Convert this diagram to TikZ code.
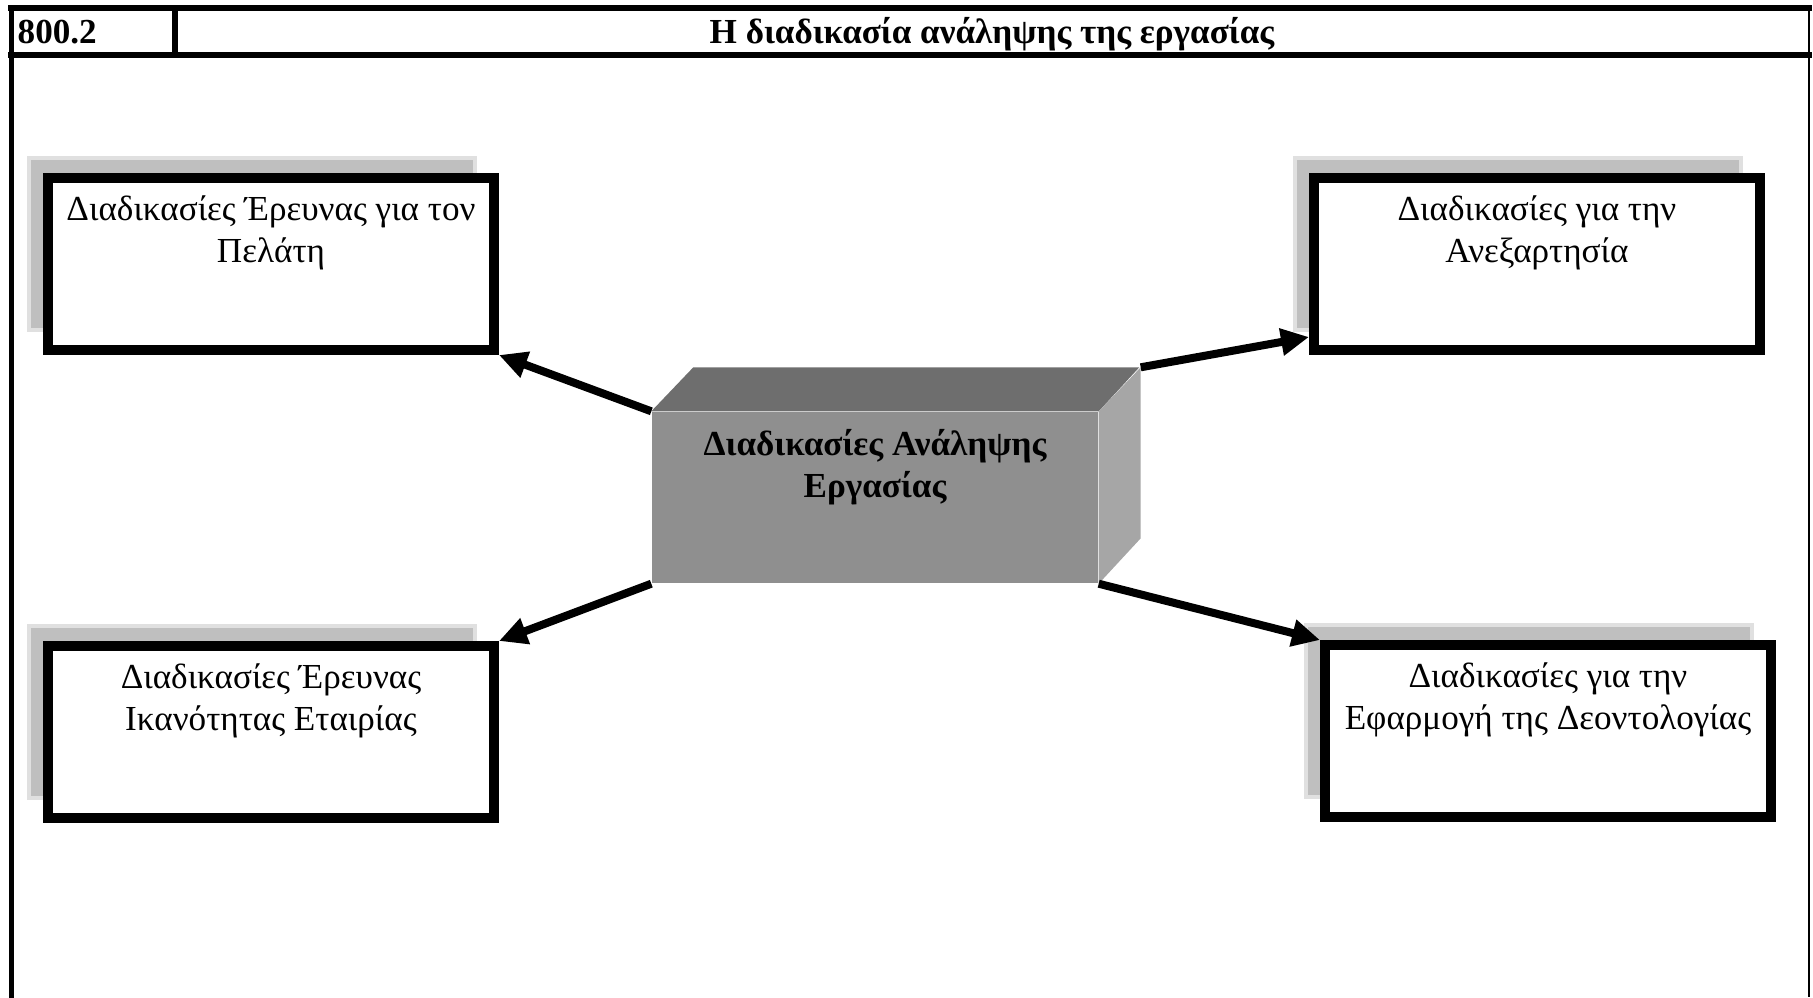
\documentclass[tikz,border=0pt]{standalone}
\usepackage{fontspec}
\setmainfont{Liberation Serif}
\usetikzlibrary{positioning}
\usetikzlibrary{shadows}
\usetikzlibrary{arrows.meta}
\definecolor{facegray}{gray}{0.56}
\definecolor{topgray}{gray}{0.43}
\definecolor{sidegray}{gray}{0.65}
\definecolor{shadegray}{gray}{0.75}
\newcommand{\boxtext}[1]{\parbox[c][13.6mm][t]{44mm}{\centering #1}}
\tikzset{
frame_line/.style={line width=0.6mm, line cap=rect},
proc_box/.style={rectangle, draw, line width=1mm, fill=white, inner sep=0pt, minimum width=44.6mm, minimum height=17.2mm, general shadow={shadow xshift=-1.9mm, shadow yshift=2mm, fill=shadegray, draw=black!12, line width=0.4mm}},
block_front/.style={rectangle, fill=facegray, inner sep=0pt, minimum width=44.6mm, minimum height=17.1mm, font=\bfseries},
push_arrow/.style={-{Triangle[length=2.8mm,width=2.6mm]}, line width=0.8mm}
}

\begin{document}
\begin{tikzpicture}[x=0.1mm, y=-0.1mm]
    \useasboundingbox (0,0) rectangle (1813,997);
    % frame and header
    \draw[frame_line] (11,8) -- (1809,8);
    \draw[frame_line] (11,55) -- (1809,55);
    \draw[frame_line] (11.5,8) -- (11.5,997);
    \draw[frame_line] (175,8) -- (175,55);
    \draw[line width=0.25mm] (1809,8) -- (1809,997);
    \node[anchor=base west, font=\bfseries, inner sep=0pt] (code) at (17,43) {800.2};
    \node[anchor=base, font=\bfseries, inner sep=0pt] (title) at (992,43) {Η διαδικασία ανάληψης της εργασίας};

    % the four boxes
    \node[proc_box] (client) at (271,264) {\boxtext{Διαδικασίες Έρευνας για τον\\Πελάτη}};
    \node[proc_box] (indep) at (1537,264) {\boxtext{Διαδικασίες για την\\Ανεξαρτησία}};
    \node[proc_box] (firm) at (271,732) {\boxtext{Διαδικασίες Έρευνας\\Ικανότητας Εταιρίας}};
    \node[proc_box] (ethics) at (1548,731) {\boxtext{Διαδικασίες για την\\Εφαρμογή της Δεοντολογίας}};

    % the block in the middle
    \node[block_front] (accept) at (875,497.5) {\parbox[c][13.6mm][t]{44mm}{\centering Διαδικασίες Ανάληψης\\Εργασίας}};
    \fill[topgray] (accept.north west) -- ++(4.2mm,4.4mm) -- ++(44.6mm,0) -- (accept.north east) -- cycle;
    \fill[sidegray] (accept.north east) -- ++(4.2mm,4.4mm) -- ++(0,-17.1mm) -- (accept.south east) -- cycle;
    \coordinate (accept_back) at ([shift={(4.2mm,4.4mm)}]accept.north east);

    \draw[push_arrow] (accept.north west) -- (client.south east);
    \draw[push_arrow] (accept_back) -- ([yshift=1.8mm]indep.south west);
    \draw[push_arrow] (accept.south west) -- (firm.north east);
    \draw[push_arrow] (accept.south east) -- (ethics.north west);
\end{tikzpicture}
\end{document}
